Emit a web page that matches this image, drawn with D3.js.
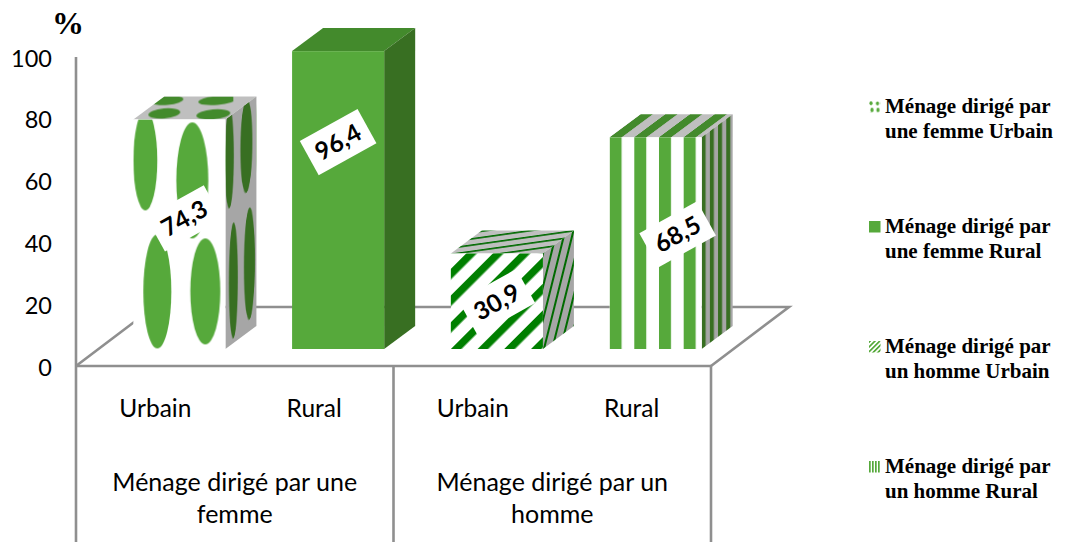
<!DOCTYPE html>
<html lang="fr">
<head>
<meta charset="utf-8">
<script src="https://cdn.jsdelivr.net/npm/d3@7"></script>
<style>
html,body{margin:0;padding:0;background:#fff;}
svg{display:block;}
text{font-family:Lato,"Noto Sans",sans-serif;fill:#000;}
</style>
</head>
<body>
<svg id="c" width="1067" height="542"></svg>
<script>
const categories = ["Urbain","Rural","Urbain","Rural"];
const groups = [["Ménage dirigé par une","femme"],["Ménage dirigé par un","homme"]];
const values = [74.3,96.4,30.9,68.5];
const valueLabels = ["74,3","96,4","30,9","68,5"];
const yTicks = [0,20,40,60,80,100];
const legendLabels = [
  ["Ménage dirigé par","une femme Urbain"],
  ["Ménage dirigé par","une femme Rural"],
  ["Ménage dirigé par","un homme Urbain"],
  ["Ménage dirigé par","un homme Rural"]
];
const yUnit = "%";

const W=1067,H=542;
const svg=d3.select("#c");
const defs=svg.append("defs");

const GREEN="#56a93b",TOP_G="#438a2c",SIDE_G="#386f22",TOP_BG="#bfbfbf",SIDE_BG="#a6a6a6",AXIS="#8f8f8f",DG="#007f00",TG="#006a00";

const x=d3.scaleBand().domain(d3.range(categories.length)).range([76,711]).paddingInner(.42).paddingOuter(.21);
const y=d3.scaleLinear().domain([0,100]).range([366,57]);
// Floor and bar depth of the 3-D box
const floorDX=78,floorDY=59,barDX=31,barDY=23,barShiftX=24,barShiftY=17;

function pattern(id,w,h,tf,bg,draw){
  const p=defs.append("pattern").attr("id",id).attr("patternUnits","userSpaceOnUse")
    .attr("width",w).attr("height",h).attr("patternTransform",tf);
  p.append("rect").attr("width",w).attr("height",h).attr("fill",bg);
  draw(p);
}
const ell=(p,c,cx,cy,rx,ry,rot)=>{const e=p.append("ellipse").attr("cx",cx).attr("cy",cy).attr("rx",rx).attr("ry",ry).attr("fill",c);
  if(rot)e.attr("transform",`rotate(${rot} ${cx} ${cy})`);};
const strip=(p,c,a,w,h)=>p.append("rect").attr("x",a).attr("y",0).attr("width",w).attr("height",h).attr("fill",c);

const bl=i=>x(i)+barShiftX;
const br=i=>bl(i)+x.bandwidth();
const by0=y(0)-barShiftY;
const bt=i=>y(values[i])-barShiftY;
const skewSide=`matrix(1,${-barDY/barDX},0,1,`;

// bar 1: spots
pattern("f0",x.bandwidth(),240,`translate(${bl(0)},${bt(0)})`,"#fff",p=>{
  ell(p,GREEN,12,41,12,50);ell(p,GREEN,59,61,16,58);ell(p,GREEN,24,172,14,57);ell(p,GREEN,72,172,15,53);
});
pattern("s0",barDX,240,`${skewSide}${br(0)},${bt(0)})`,SIDE_BG,p=>{
  ell(p,SIDE_G,4,42,4.5,50);ell(p,SIDE_G,21,42,6,47);ell(p,SIDE_G,8,167,4.5,58);ell(p,SIDE_G,24,162,5.5,56);
});
pattern("t0",100,60,`translate(${bl(0)},${bt(0)-barDY})`,TOP_BG,p=>{
  ell(p,TOP_G,34,4,16,4.5,-5);ell(p,TOP_G,84,4,19,4.5,-5);ell(p,TOP_G,31,17,16,5,-5);ell(p,TOP_G,80,18,17,5,-5);
});
// bar 3: diagonal stripes
pattern("f2",18.9,19,`translate(${bl(2)},${by0}) rotate(45)`,"#fff",p=>strip(p,DG,0,7.5,19));
pattern("s2",8,20,`translate(${br(2)},${by0}) rotate(14)`,SIDE_BG,p=>strip(p,TG,0,2,20));
pattern("t2",20,6.2,`translate(${bl(2)},${bt(2)}) rotate(-8)`,TOP_BG,p=>p.append("rect").attr("width",20).attr("height",1.6).attr("fill",TG));
// bar 4: vertical stripes
pattern("f3",24.7,40,`translate(${bl(3)},${bt(3)})`,"#fff",p=>strip(p,GREEN,0,12,40));
pattern("s3",8.2,40,`translate(${br(3)},${bt(3)})`,SIDE_BG,p=>strip(p,SIDE_G,0,4,40));
pattern("t3",24.7,barDY,`matrix(1,0,${barDX/barDY},-1,${bl(3)},${bt(3)})`,TOP_BG,p=>strip(p,TOP_G,0,12,barDY));
// legend swatches (drawn inside translated groups)
pattern("l0",11.5,11.5,"translate(0,0)","#fff",p=>{
  ell(p,GREEN,2,2.2,1.6,2);ell(p,GREEN,8.5,2.5,1.6,2);ell(p,GREEN,3,9,1.6,2.2);ell(p,GREEN,9,9,1.6,2.2);
});
pattern("l2",3.4,3.4,"rotate(45)","#fff",p=>strip(p,GREEN,0,1.7,3.4));
pattern("l3",3,12,"translate(0,0)","#fff",p=>strip(p,GREEN,0,1.7,12));

const fills=[["url(#f0)","url(#s0)","url(#t0)"],[GREEN,SIDE_G,TOP_G],["url(#f2)","url(#s2)","url(#t2)"],["url(#f3)","url(#s3)","url(#t3)"]];
const legendFills=["url(#l0)",GREEN,"url(#l2)","url(#l3)"];

// Axes / floor
const axisG=svg.append("g").attr("stroke",AXIS).attr("fill","none").attr("stroke-width",2.6);
const x0=x.range()[0],x1=x.range()[1],xm=(x0+x1)/2;
axisG.append("line").attr("x1",x0).attr("x2",x0).attr("y1",y(100)).attr("y2",H);
axisG.append("line").attr("x1",xm).attr("x2",xm).attr("y1",y(0)).attr("y2",H);
axisG.append("line").attr("x1",x1).attr("x2",x1).attr("y1",y(0)).attr("y2",H);
axisG.append("line").attr("x1",x0).attr("x2",x1).attr("y1",y(0)).attr("y2",y(0));
axisG.append("polyline").attr("points",[[x0,y(0)],[x0+floorDX,y(0)-floorDY],[x1+floorDX,y(0)-floorDY],[x1,y(0)]].join(" "));

// Bars
const bars=svg.append("g").selectAll("g").data(values).join("g");
bars.append("polygon").attr("fill",(d,i)=>fills[i][2])
  .attr("points",(d,i)=>[[bl(i),bt(i)],[br(i),bt(i)],[br(i)+barDX,bt(i)-barDY],[bl(i)+barDX,bt(i)-barDY]].join(" "));
bars.append("polygon").attr("fill",(d,i)=>fills[i][1])
  .attr("points",(d,i)=>[[br(i),bt(i)],[br(i)+barDX,bt(i)-barDY],[br(i)+barDX,by0-barDY],[br(i),by0]].join(" "));
bars.append("rect").attr("fill",(d,i)=>fills[i][0])
  .attr("x",(d,i)=>bl(i)).attr("y",(d,i)=>bt(i)).attr("width",x.bandwidth()).attr("height",(d,i)=>by0-bt(i));

// Rotated value labels (hand-placed in the reference)
const labelShiftX=[5,0,0,22], labelDrop=[99,91,48.5,97];
const labels=svg.append("g").selectAll("g").data(valueLabels).join("g")
  .attr("transform",(d,i)=>`translate(${bl(i)+x.bandwidth()/2+labelShiftX[i]},${bt(i)+labelDrop[i]}) rotate(-29)`);
labels.append("rect").attr("x",-33).attr("y",-19.5).attr("width",66).attr("height",39).attr("fill","#fff");
labels.append("text").text(d=>d).attr("text-anchor","middle").attr("y",8.5).attr("font-size",24.5).attr("font-weight",700);

// Y ticks
svg.append("g").selectAll("text").data(yTicks).join("text").text(d=>d)
  .attr("x",52).attr("y",d=>y(d)+9.5).attr("text-anchor","end").attr("font-size",23.5);
svg.append("text").text(yUnit).attr("x",68).attr("y",34).attr("text-anchor","middle")
  .attr("font-size",32).attr("font-weight",700).style("font-family","'Liberation Serif',serif");

// Category labels
svg.append("g").selectAll("text").data(categories).join("text").text(d=>d)
  .attr("x",(d,i)=>x(i)+x.bandwidth()/2).attr("y",417).attr("text-anchor","middle").attr("font-size",24.5);
const grp=svg.append("g").selectAll("text").data(groups).join("text")
  .attr("text-anchor","middle").attr("font-size",25);
grp.selectAll("tspan").data((d,i)=>d.map(t=>({t,i}))).join("tspan")
  .attr("x",d=>x0+(x1-x0)*(d.i+.5)/groups.length)
  .attr("y",(d,j)=>491+j*32).text(d=>d.t);

// Legend
const leg=svg.append("g").selectAll("g").data(legendLabels).join("g")
  .attr("transform",(d,i)=>`translate(869,${[101,221,341,461][i]})`);
leg.append("rect").attr("width",11.5).attr("height",11.5).attr("fill",(d,i)=>legendFills[i]);
leg.selectAll("text").data(d=>d).join("text").text(d=>d)
  .attr("x",16).attr("y",(d,j)=>12+j*24.5).attr("font-size",21).attr("font-weight",700)
  .style("font-family","'Liberation Serif',serif");
</script>
</body>
</html>
